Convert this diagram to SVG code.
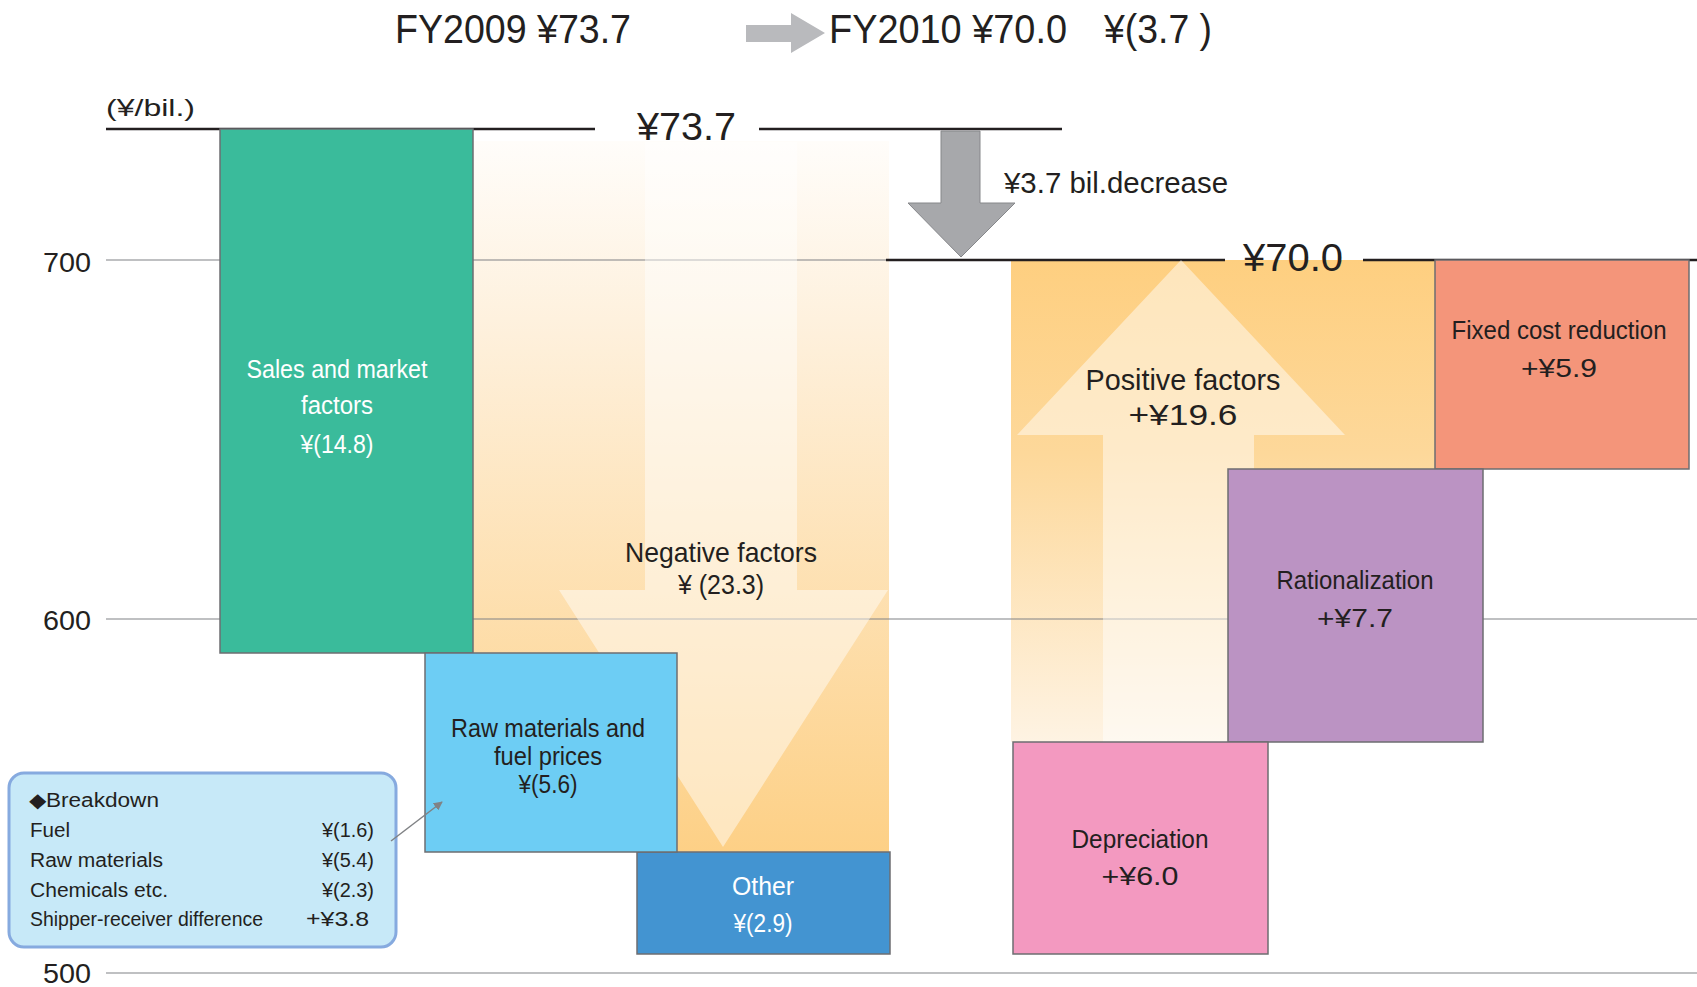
<svg xmlns="http://www.w3.org/2000/svg" width="1697" height="987" viewBox="0 0 1697 987">
<style>
text{font-family:"Liberation Sans",Arial,sans-serif;fill:#231f20}
.w{fill:#ffffff}
.c{text-anchor:middle}
.title{font-size:40px}
.big{font-size:38px}
.lab{font-size:25px}
.mid{font-size:28px}
.bd{font-size:20px}
.ax{font-size:27px}
.grid{stroke:#808285;stroke-width:1.2;fill:none}
.thick{stroke:#231f20;stroke-width:2.5;fill:none}
.box{stroke:#6d6e71;stroke-width:1.5}
.ov{fill:#ffffff;fill-opacity:0.47}
</style>
<defs>
<linearGradient id="gL" x1="0" y1="141" x2="0" y2="852" gradientUnits="userSpaceOnUse">
<stop offset="0" stop-color="#fffdfa"/>
<stop offset="0.25" stop-color="#fef1de"/>
<stop offset="1" stop-color="#fdd086"/>
</linearGradient>
<linearGradient id="gR" x1="0" y1="260" x2="0" y2="742" gradientUnits="userSpaceOnUse">
<stop offset="0" stop-color="#fecf80"/>
<stop offset="0.4" stop-color="#fdd89a"/>
<stop offset="1" stop-color="#fef3e3"/>
</linearGradient>
<marker id="ah" viewBox="0 0 10 10" refX="9" refY="5" markerWidth="9" markerHeight="9" orient="auto" markerUnits="userSpaceOnUse">
<path d="M0,0 L10,5 L0,10 z" fill="#808285"/>
</marker>
</defs>
<rect width="1697" height="987" fill="#ffffff"/>

<g id="background-areas">
<rect x="473" y="141" width="416" height="711" fill="url(#gL)"/>
<rect x="1011" y="260" width="424" height="482" fill="url(#gR)"/>
</g>

<g id="gridlines">
<line class="grid" x1="106" y1="260" x2="886" y2="260"/>
<line class="grid" x1="106" y1="619" x2="1697" y2="619"/>
<line class="grid" x1="106" y1="973" x2="1697" y2="973"/>
<line class="thick" x1="106" y1="129" x2="595" y2="129"/>
<line class="thick" x1="759" y1="129" x2="1062" y2="129"/>
<line class="thick" x1="886" y1="260" x2="1225" y2="260"/>
<line class="thick" x1="1363" y1="260" x2="1697" y2="260"/>
<text class="ax" x="43" y="272" textLength="48" lengthAdjust="spacingAndGlyphs">700</text>
<text class="ax" x="43" y="630" textLength="48" lengthAdjust="spacingAndGlyphs">600</text>
<text class="ax" x="43" y="983" textLength="48" lengthAdjust="spacingAndGlyphs">500</text>
<text x="106" y="116" font-size="24" textLength="89" lengthAdjust="spacingAndGlyphs">(¥/bil.)</text>
<text class="big" x="637" y="140" textLength="99" lengthAdjust="spacingAndGlyphs">¥73.7</text>
<text class="big" x="1243" y="271" textLength="100" lengthAdjust="spacingAndGlyphs">¥70.0</text>
</g>

<g id="title">
<text class="title" x="395" y="43" textLength="236" lengthAdjust="spacingAndGlyphs">FY2009 ¥73.7</text>
<polygon points="746,25 791,25 791,13 825,33 791,53 791,42 746,42" fill="#b9babd"/>
<text class="title" x="829" y="43" textLength="238" lengthAdjust="spacingAndGlyphs">FY2010 ¥70.0</text>
<text class="title" x="1104" y="43" textLength="108" lengthAdjust="spacingAndGlyphs">¥(3.7 )</text>
</g>

<g id="negative-factors">
<polygon class="ov" points="645,142 797,142 797,590 888,590 723,847 559,590 645,590"/>
<text class="mid c" x="721" y="562" textLength="192" lengthAdjust="spacingAndGlyphs">Negative factors</text>
<text class="mid c" x="721" y="594" textLength="86" lengthAdjust="spacingAndGlyphs">¥ (23.3)</text>
</g>

<g id="positive-factors">
<polygon class="ov" points="1181,260 1345,435 1254,435 1254,742 1103,742 1103,435 1017,435"/>
<text class="c" font-size="30" x="1183" y="390" textLength="195" lengthAdjust="spacingAndGlyphs">Positive factors</text>
<text class="c" font-size="30" x="1183" y="425" textLength="109" lengthAdjust="spacingAndGlyphs">+¥19.6</text>
</g>

<g id="decrease">
<polygon points="941,131 980,131 980,203 1015,203 961,257 908,203 941,203" fill="#a7a8ab" stroke="#86878a" stroke-width="1"/>
<text x="1004" y="193" font-size="29" textLength="224" lengthAdjust="spacingAndGlyphs">¥3.7 bil.decrease</text>
</g>

<g id="sales-market">
<rect class="box" x="220" y="129" width="253" height="524" fill="#3abb9b"/>
<text class="lab c w" x="337" y="378" textLength="181" lengthAdjust="spacingAndGlyphs">Sales and market</text>
<text class="lab c w" x="337" y="414" textLength="72" lengthAdjust="spacingAndGlyphs">factors</text>
<text class="lab c w" x="337" y="453" textLength="73" lengthAdjust="spacingAndGlyphs">¥(14.8)</text>
</g>

<g id="other">
<rect class="box" x="637" y="852" width="253" height="102" fill="#4394d1"/>
<text class="lab c w" x="763" y="895" textLength="62" lengthAdjust="spacingAndGlyphs">Other</text>
<text class="lab c w" x="763" y="932" textLength="59" lengthAdjust="spacingAndGlyphs">¥(2.9)</text>
</g>

<g id="raw-materials">
<rect class="box" x="425" y="653" width="252" height="199" fill="#6dcdf4"/>
<text class="lab c" x="548" y="737" textLength="194" lengthAdjust="spacingAndGlyphs">Raw materials and</text>
<text class="lab c" x="548" y="765" textLength="108" lengthAdjust="spacingAndGlyphs">fuel prices</text>
<text class="lab c" x="548" y="793" textLength="59" lengthAdjust="spacingAndGlyphs">¥(5.6)</text>
</g>

<g id="fixed-cost">
<rect class="box" x="1435" y="260" width="254" height="209" fill="#f4957a"/>
<text class="lab c" x="1559" y="339" textLength="215" lengthAdjust="spacingAndGlyphs">Fixed cost reduction</text>
<text class="lab c" x="1559" y="377" textLength="76" lengthAdjust="spacingAndGlyphs">+¥5.9</text>
</g>

<g id="rationalization">
<rect class="box" x="1228" y="469" width="255" height="273" fill="#bb93c3"/>
<text class="lab c" x="1355" y="589" textLength="157" lengthAdjust="spacingAndGlyphs">Rationalization</text>
<text class="lab c" x="1355" y="627" textLength="76" lengthAdjust="spacingAndGlyphs">+¥7.7</text>
</g>

<g id="depreciation">
<rect class="box" x="1013" y="742" width="255" height="212" fill="#f399c0"/>
<text class="lab c" x="1140" y="848" textLength="137" lengthAdjust="spacingAndGlyphs">Depreciation</text>
<text class="lab c" x="1140" y="885" textLength="77" lengthAdjust="spacingAndGlyphs">+¥6.0</text>
</g>

<g id="breakdown">
<rect x="9" y="773" width="387" height="174" rx="15" ry="15" fill="#c7e9f8" stroke="#86aadf" stroke-width="3"/>
<text class="bd" x="29" y="807" textLength="130" lengthAdjust="spacingAndGlyphs">◆Breakdown</text>
<text class="bd" x="30" y="837" textLength="40" lengthAdjust="spacingAndGlyphs">Fuel</text>
<text class="bd" x="30" y="867" textLength="133" lengthAdjust="spacingAndGlyphs">Raw materials</text>
<text class="bd" x="30" y="897" textLength="138" lengthAdjust="spacingAndGlyphs">Chemicals etc.</text>
<text class="bd" x="30" y="926" textLength="233" lengthAdjust="spacingAndGlyphs">Shipper-receiver difference</text>
<text class="bd" x="374" y="837" text-anchor="end" textLength="52" lengthAdjust="spacingAndGlyphs">¥(1.6)</text>
<text class="bd" x="374" y="867" text-anchor="end" textLength="52" lengthAdjust="spacingAndGlyphs">¥(5.4)</text>
<text class="bd" x="374" y="897" text-anchor="end" textLength="52" lengthAdjust="spacingAndGlyphs">¥(2.3)</text>
<text class="bd" x="369" y="926" text-anchor="end" textLength="63" lengthAdjust="spacingAndGlyphs">+¥3.8</text>
</g>

<g id="connectors">
<line x1="391" y1="841" x2="442" y2="802" stroke="#808285" stroke-width="1.5" marker-end="url(#ah)"/>
</g>
</svg>
